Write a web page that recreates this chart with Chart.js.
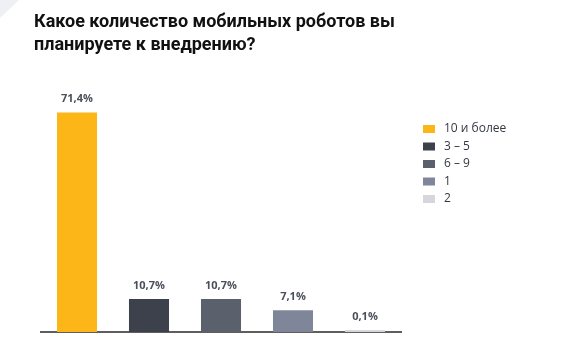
<!DOCTYPE html>
<html>
<head>
<meta charset="utf-8">
<script src="https://cdn.jsdelivr.net/npm/chart.js@4"></script>
<style>
  html, body { margin: 0; padding: 0; background: #fff; }
  #wrap { position: relative; width: 567px; height: 358px; overflow: hidden; }
  #corner { position: absolute; left: 0; top: 0; width: 19px; height: 18px; background: #eef0f3; clip-path: polygon(0 0, 100% 0, 0 100%); }
  #title { position: absolute; left: 34px; top: 9px; font-family: Roboto, "Open Sans", sans-serif; font-weight: 700; font-size: 18px; line-height: 23px; color: #111; }
  #chart { position: absolute; left: 0; top: 0; }
</style>
</head>
<body>
<div id="wrap">
  <div id="corner"></div>
  <canvas id="chart" width="567" height="358"></canvas>
  <div id="title">Какое количество мобильных роботов вы<br>планируете к внедрению?</div>
</div>
<script>
const categories = ["10 и более", "3 – 5", "6 – 9", "1", "2"];
const values = [71.4, 10.7, 10.7, 7.1, 0.1];
const valueLabels = ["71,4%", "10,7%", "10,7%", "7,1%", "0,1%"];
const colors = ["#FDB618", "#3D414B", "#5B606D", "#80869A", "#D6D7DC"];

const valueLabelPlugin = {
  id: 'valueLabels',
  afterDatasetsDraw(chart) {
    const ctx = chart.ctx;
    const meta = chart.getDatasetMeta(0);
    ctx.save();
    ctx.font = 'bold 11px "Open Sans", Roboto, sans-serif';
    ctx.fillStyle = '#4A4F5A';
    ctx.textAlign = 'center';
    ctx.textBaseline = 'bottom';
    meta.data.forEach((bar, i) => {
      ctx.fillText(valueLabels[i], bar.x, bar.y - 8);
    });
    ctx.restore();
  }
};

const legendPlugin = {
  id: 'sideLegend',
  afterDraw(chart) {
    const ctx = chart.ctx;
    const x0 = chart.chartArea.right + 22;
    const y0 = 129;
    ctx.save();
    ctx.font = '12px "Open Sans", Roboto, sans-serif';
    ctx.textBaseline = 'middle';
    categories.forEach((c, i) => {
      const y = y0 + i * 17.5;
      ctx.fillStyle = colors[i];
      ctx.fillRect(x0, y - 4, 12, 8);
      ctx.fillStyle = '#333840';
      ctx.fillText(c, x0 + 21, y);
    });
    ctx.restore();
  }
};

new Chart(document.getElementById('chart'), {
  type: 'bar',
  data: {
    labels: categories,
    datasets: [{
      data: values,
      backgroundColor: colors,
      categoryPercentage: 1,
      barPercentage: 0.556,
      minBarLength: 2
    }]
  },
  options: {
    responsive: false,
    animation: false,
    layout: { padding: { left: 41, right: 166, top: 86, bottom: 26 } },
    plugins: { legend: { display: false }, tooltip: { enabled: false } },
    scales: {
      x: {
        grid: { display: false, drawTicks: false },
        ticks: { display: false },
        border: { display: true, color: '#5E5E5E', width: 2 }
      },
      y: {
        display: false,
        min: 0,
        max: 80
      }
    }
  },
  plugins: [valueLabelPlugin, legendPlugin]
});
</script>
</body>
</html>
